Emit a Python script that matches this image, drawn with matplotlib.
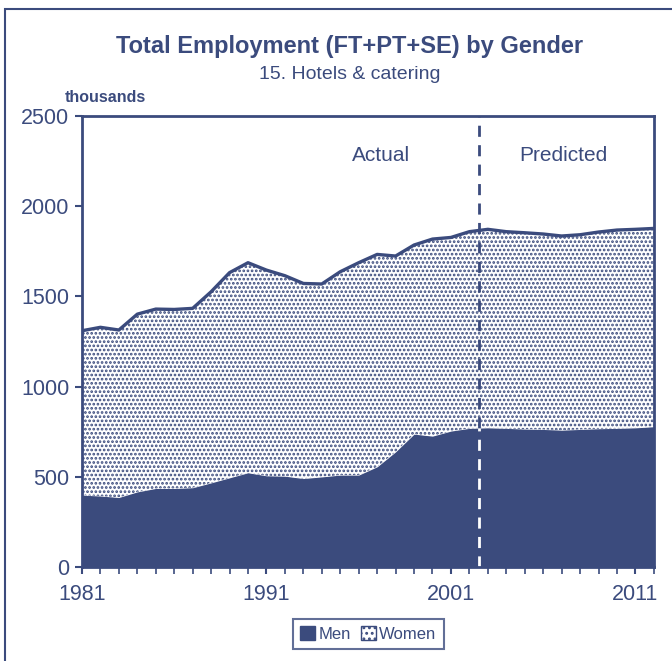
import numpy as np
import matplotlib
matplotlib.use("Agg")
import matplotlib.pyplot as plt
from matplotlib.patches import Patch, Rectangle

plt.rcParams['font.family'] = ['Liberation Sans', 'DejaVu Sans']
plt.rcParams['hatch.linewidth'] = 1.3

NAVY = '#3b4b7d'

# --- data (thousands) ---
years = np.arange(1981, 2013)
men = [399, 394, 386, 417, 436, 436, 440, 467, 495, 523,
       506, 504, 491, 500, 510, 510, 556, 639, 737, 726,
       754, 769, 772, 769, 765, 763, 759, 763, 767, 769,
       772, 778]
total = [1310, 1329, 1314, 1402, 1430, 1428, 1434, 1526, 1632, 1687,
         1646, 1615, 1572, 1569, 1637, 1687, 1733, 1724, 1785, 1818,
         1827, 1859, 1872, 1859, 1853, 1846, 1835, 1842, 1857, 1868,
         1872, 1877]
women = [t - m for t, m in zip(total, men)]
split_year = 2002.5
y_ticks = [0, 500, 1000, 1500, 2000, 2500]
x_labels = [1981, 1991, 2001, 2011]

fig = plt.figure(figsize=(6.72, 6.61), dpi=100)
ax = fig.add_axes([0.122, 0.142, 0.851, 0.6825])

men = np.array(men)
women = np.array(women)
ax.fill_between(years, 0, men, color=NAVY, lw=0)
ax.fill_between(years, men, men + women, facecolor='white', edgecolor=NAVY,
                hatch='....', lw=0)
ax.plot(years, men + women, color=NAVY, lw=2.4)

# actual / predicted divider
m_split = np.interp(split_year, years, men)
ax.plot([split_year, split_year], [m_split, 2500], color=NAVY, lw=2,
        ls=(0, (4, 3)))
ax.plot([split_year, split_year], [0, m_split], color='white', lw=2,
        ls=(0, (4, 3)))

ax.text(1997.2, 2280, 'Actual', ha='center', va='center', fontsize=15, color=NAVY)
ax.text(2007.1, 2280, 'Predicted', ha='center', va='center', fontsize=15, color=NAVY)

ax.set_xlim(1981, 2012)
ax.set_ylim(0, 2500)
ax.set_yticks(y_ticks)
ax.set_xticks(x_labels)
ax.set_xticks(years, minor=True)
ax.tick_params(axis='both', colors=NAVY, labelsize=15.5, width=1.5, length=5)
ax.tick_params(axis='x', which='minor', colors=NAVY, width=1.2, length=5)
ax.tick_params(axis='x', pad=7)
ax.tick_params(axis='y', pad=4)
for sp in ax.spines.values():
    sp.set_color(NAVY)
    sp.set_linewidth(2)

fig.text(0.52, 0.93, 'Total Employment (FT+PT+SE) by Gender', ha='center',
         va='center', fontsize=17, fontweight='bold', color=NAVY)
fig.text(0.52, 0.888, '15. Hotels & catering', ha='center', va='center',
         fontsize=14, color=NAVY)
fig.text(0.096, 0.853, 'thousands', ha='left', va='center', fontsize=11.5,
         fontweight='bold', color=NAVY)

handles = [Patch(facecolor=NAVY, edgecolor=NAVY, label='Men'),
           Patch(facecolor='white', edgecolor=NAVY, hatch='...', label='Women')]
leg = fig.legend(handles=handles, loc='center', bbox_to_anchor=(0.548, 0.041),
                 ncol=2, frameon=True, fancybox=False, fontsize=12,
                 handlelength=0.9, handleheight=0.9, handletextpad=0.2,
                 columnspacing=0.6, borderpad=0.45)
leg.get_frame().set_edgecolor(NAVY)
leg.get_frame().set_linewidth(1.5)
for t in leg.get_texts():
    t.set_color(NAVY)

# outer frame
fig.patches.append(Rectangle((0.008, -0.05), 1.2, 1.037, transform=fig.transFigure,
                             fill=False, edgecolor=NAVY, lw=1.5))

fig.savefig('out.png', dpi=100)
